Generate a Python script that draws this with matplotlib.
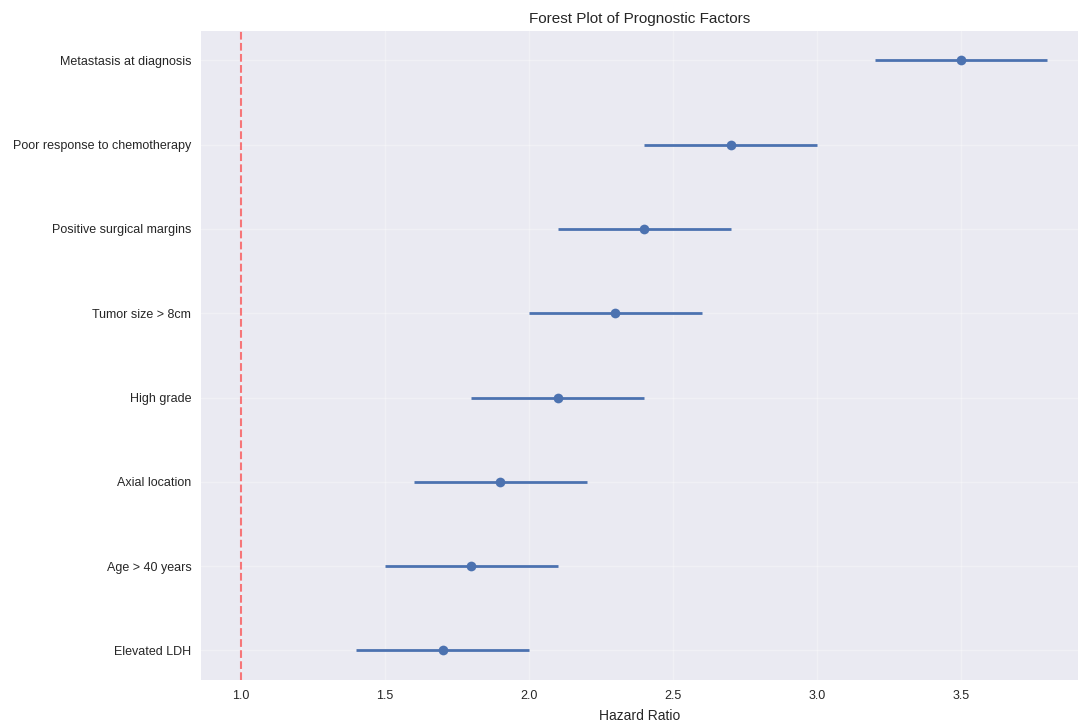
import matplotlib
matplotlib.use("Agg")
import matplotlib.pyplot as plt
import numpy as np

plt.style.use("seaborn-v0_8")
plt.rcParams["font.family"] = ["Liberation Sans", "DejaVu Sans"]

# Factors listed bottom to top
factors = [
    "Elevated LDH",
    "Age > 40 years",
    "Axial location",
    "High grade",
    "Tumor size > 8cm",
    "Positive surgical margins",
    "Poor response to chemotherapy",
    "Metastasis at diagnosis",
]
hazard_ratio = [1.7, 1.8, 1.9, 2.1, 2.3, 2.4, 2.7, 3.5]
ci_lower = [1.4, 1.5, 1.6, 1.8, 2.0, 2.1, 2.4, 3.2]
ci_upper = [2.0, 2.1, 2.2, 2.4, 2.6, 2.7, 3.0, 3.8]

hr = np.array(hazard_ratio)
err = [hr - np.array(ci_lower), np.array(ci_upper) - hr]
y = np.arange(len(factors))

fig = plt.figure(figsize=(10.78, 7.22), dpi=100)
ax = fig.add_axes([0.1865, 0.0582, 0.8135, 0.899])

ax.errorbar(hr, y, xerr=err, fmt="o", color="#4C72B0", ecolor="#4C72B0",
            elinewidth=2, markersize=7, capsize=0)
ax.axvline(1.0, color="red", linestyle="--", alpha=0.5, linewidth=1.5)

ax.set_yticks(y)
ax.set_yticklabels(factors, fontsize=9)
ax.tick_params(axis="x", labelsize=9)
ax.grid(True, alpha=0.3)
ax.set_xlim(0.861, 3.906)
ax.set_ylim(-0.35, 7.35)
ax.set_xlabel("Hazard Ratio", fontsize=10, labelpad=5)
ax.set_title("Forest Plot of Prognostic Factors", fontsize=11, pad=6)

fig.savefig("out.png", dpi=100)
